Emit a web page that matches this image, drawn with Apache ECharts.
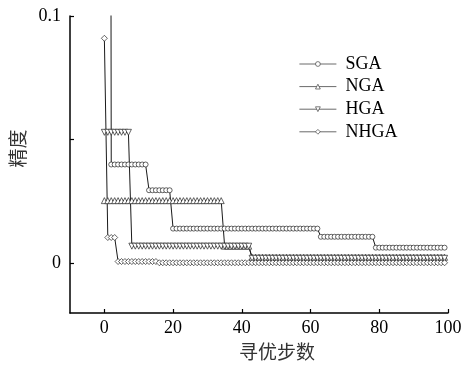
<!DOCTYPE html>
<html>
<head>
<meta charset="utf-8">
<script src="https://cdn.jsdelivr.net/npm/echarts@6/dist/echarts.min.js"></script>
<style>html,body{margin:0;padding:0;background:#fff}#c{width:473px;height:366px}</style>
</head>
<body>
<div id="c"></div>
<script>
var seriesNames = ['SGA', 'NGA', 'HGA', 'NHGA'];
var xTickLabels = [0, 20, 40, 60, 80, 100];
var xMinorTicks = [10, 30, 50, 70, 90];
var yTickValues = [0, 0.05, 0.1];
var yTickLabels = [0, 0.1];

var SGA = [
  1, 1, 0.040, 0.040, 0.040, 0.040, 0.040, 0.040, 0.040, 0.040,
  0.040, 0.040, 0.040, 0.0296, 0.0296, 0.0296, 0.0296, 0.0296, 0.0296, 0.0296,
  0.0141, 0.0141, 0.0141, 0.0141, 0.0141, 0.0141, 0.0141, 0.0141, 0.0141, 0.0141,
  0.0141, 0.0141, 0.0141, 0.0141, 0.0141, 0.0141, 0.0141, 0.0141, 0.0141, 0.0141,
  0.0141, 0.0141, 0.0141, 0.0141, 0.0141, 0.0141, 0.0141, 0.0141, 0.0141, 0.0141,
  0.0141, 0.0141, 0.0141, 0.0141, 0.0141, 0.0141, 0.0141, 0.0141, 0.0141, 0.0141,
  0.0141, 0.0141, 0.0141, 0.0108, 0.0108, 0.0108, 0.0108, 0.0108, 0.0108, 0.0108,
  0.0108, 0.0108, 0.0108, 0.0108, 0.0108, 0.0108, 0.0108, 0.0108, 0.0108, 0.0064,
  0.0064, 0.0064, 0.0064, 0.0064, 0.0064, 0.0064, 0.0064, 0.0064, 0.0064, 0.0064,
  0.0064, 0.0064, 0.0064, 0.0064, 0.0064, 0.0064, 0.0064, 0.0064, 0.0064, 0.0064
];
var NGA = [
  0.0254, 0.0254, 0.0254, 0.0254, 0.0254, 0.0254, 0.0254, 0.0254, 0.0254, 0.0254,
  0.0254, 0.0254, 0.0254, 0.0254, 0.0254, 0.0254, 0.0254, 0.0254, 0.0254, 0.0254,
  0.0254, 0.0254, 0.0254, 0.0254, 0.0254, 0.0254, 0.0254, 0.0254, 0.0254, 0.0254,
  0.0254, 0.0254, 0.0254, 0.0254, 0.0254, 0.0070, 0.0070, 0.0070, 0.0070, 0.0070,
  0.0070, 0.0070, 0.0070, 0.0025, 0.0025, 0.0025, 0.0025, 0.0025, 0.0025, 0.0025,
  0.0025, 0.0025, 0.0025, 0.0025, 0.0025, 0.0025, 0.0025, 0.0025, 0.0025, 0.0025,
  0.0025, 0.0025, 0.0025, 0.0025, 0.0025, 0.0025, 0.0025, 0.0025, 0.0025, 0.0025,
  0.0025, 0.0025, 0.0025, 0.0025, 0.0025, 0.0025, 0.0025, 0.0025, 0.0025, 0.0025,
  0.0025, 0.0025, 0.0025, 0.0025, 0.0025, 0.0025, 0.0025, 0.0025, 0.0025, 0.0025,
  0.0025, 0.0025, 0.0025, 0.0025, 0.0025, 0.0025, 0.0025, 0.0025, 0.0025, 0.0025
];
var HGA = [
  0.053, 0.053, 0.053, 0.053, 0.053, 0.053, 0.053, 0.053, 0.0070, 0.0070,
  0.0070, 0.0070, 0.0070, 0.0070, 0.0070, 0.0070, 0.0070, 0.0070, 0.0070, 0.0070,
  0.0070, 0.0070, 0.0070, 0.0070, 0.0070, 0.0070, 0.0070, 0.0070, 0.0070, 0.0070,
  0.0070, 0.0070, 0.0070, 0.0070, 0.0070, 0.0070, 0.0070, 0.0070, 0.0070, 0.0070,
  0.0070, 0.0070, 0.0070, 0.0021, 0.0021, 0.0021, 0.0021, 0.0021, 0.0021, 0.0021,
  0.0021, 0.0021, 0.0021, 0.0021, 0.0021, 0.0021, 0.0021, 0.0021, 0.0021, 0.0021,
  0.0021, 0.0021, 0.0021, 0.0021, 0.0021, 0.0021, 0.0021, 0.0021, 0.0021, 0.0021,
  0.0021, 0.0021, 0.0021, 0.0021, 0.0021, 0.0021, 0.0021, 0.0021, 0.0021, 0.0021,
  0.0021, 0.0021, 0.0021, 0.0021, 0.0021, 0.0021, 0.0021, 0.0021, 0.0021, 0.0021,
  0.0021, 0.0021, 0.0021, 0.0021, 0.0021, 0.0021, 0.0021, 0.0021, 0.0021, 0.0021
];
var NHGA = [
  0.091, 0.0105, 0.0105, 0.0105, 0.0008, 0.0008, 0.0008, 0.0008, 0.0008, 0.0008,
  0.0008, 0.0008, 0.0008, 0.0008, 0.0008, 0.0008, 0.0003, 0.0003, 0.0003, 0.0003,
  0.0003, 0.0003, 0.0003, 0.0003, 0.0003, 0.0003, 0.0003, 0.0003, 0.0003, 0.0003,
  0.0003, 0.0003, 0.0003, 0.0003, 0.0003, 0.0003, 0.0003, 0.0003, 0.0003, 0.0003,
  0.0003, 0.0003, 0.0003, 0.0003, 0.0003, 0.0003, 0.0003, 0.0003, 0.0003, 0.0003,
  0.0003, 0.0003, 0.0003, 0.0003, 0.0003, 0.0003, 0.0003, 0.0003, 0.0003, 0.0003,
  0.0003, 0.0003, 0.0003, 0.0003, 0.0003, 0.0003, 0.0003, 0.0003, 0.0003, 0.0003,
  0.0003, 0.0003, 0.0003, 0.0003, 0.0003, 0.0003, 0.0003, 0.0003, 0.0003, 0.0003,
  0.0003, 0.0003, 0.0003, 0.0003, 0.0003, 0.0003, 0.0003, 0.0003, 0.0003, 0.0003,
  0.0003, 0.0003, 0.0003, 0.0003, 0.0003, 0.0003, 0.0003, 0.0003, 0.0003, 0.0003
];

var serif = '"Liberation Serif", "Times New Roman", serif';
var cjk = '"Noto Sans CJK SC", sans-serif';
var symbols = ['circle', 'triangle', 'path://M0,0 L10,0 L5,9 Z', 'diamond'];
var sizes = [5, 6, 6, 6];
var allData = [SGA, NGA, HGA, NHGA];

function toPairs(arr) { return arr.map(function (v, i) { return [i, v]; }); }

var chart = echarts.init(document.getElementById('c'), null, { renderer: 'canvas' });
chart.setOption({
  animation: false,
  backgroundColor: '#fff',
  grid: { left: 70, right: 25, top: 16, bottom: 49 },
  legend: {
    orient: 'vertical',
    left: 294,
    top: 50,
    itemWidth: 37,
    itemHeight: 6,
    itemGap: 4.6,
    data: seriesNames,
    itemStyle: { color: '#fff', borderColor: '#444', borderWidth: 0.7 },
    lineStyle: { color: '#444', width: 0.8 },
    textStyle: { fontFamily: serif, fontSize: 18, color: '#000', padding: [0, 0, 0, 4], lineHeight: 18 }
  },
  xAxis: [{
    type: 'value', min: -10, max: 100,
    axisLine: { show: true, onZero: false, lineStyle: { color: '#000', width: 1.5 } },
    axisTick: { show: true, inside: true, length: 4, customValues: xTickLabels, lineStyle: { color: '#000', width: 1.2 } },
    axisLabel: { customValues: xTickLabels, fontFamily: serif, fontSize: 18, color: '#000', margin: 6 },
    splitLine: { show: false },
    name: '寻优步数', nameLocation: 'middle', nameGap: 29,
    nameTextStyle: { fontFamily: cjk, fontSize: 19, color: '#333', padding: [0, 0, 0, 36] }
  }, {
    type: 'value', min: -10, max: 100, position: 'bottom',
    axisLine: { show: false },
    axisTick: { show: true, inside: true, length: 2, customValues: xMinorTicks, lineStyle: { color: '#000', width: 1.2 } },
    axisLabel: { show: false },
    splitLine: { show: false }
  }],
  yAxis: {
    type: 'value', min: -0.02, max: 0.1,
    axisLine: { show: true, onZero: false, lineStyle: { color: '#000', width: 1.5 } },
    axisTick: { show: true, inside: true, length: 4, customValues: yTickValues, lineStyle: { color: '#000', width: 1.2 } },
    axisLabel: { customValues: yTickLabels, fontFamily: serif, fontSize: 18, color: '#000', margin: 9,
      formatter: function (v) { return String(v); } },
    splitLine: { show: false },
    name: '精度', nameLocation: 'middle', nameGap: 42,
    nameTextStyle: { fontFamily: cjk, fontSize: 19, color: '#333', padding: [0, 0, 0, 32] }
  },
  series: seriesNames.map(function (n, k) {
    return {
      name: n, type: 'line', xAxisIndex: 0, yAxisIndex: 0,
      data: toPairs(allData[k]),
      symbol: symbols[k], symbolSize: sizes[k], showAllSymbol: true,
      clip: true,
      lineStyle: { color: '#1a1a1a', width: 1 },
      itemStyle: { color: '#fff', borderColor: '#222', borderWidth: 0.7 }
    };
  })
});
</script>
</body>
</html>
